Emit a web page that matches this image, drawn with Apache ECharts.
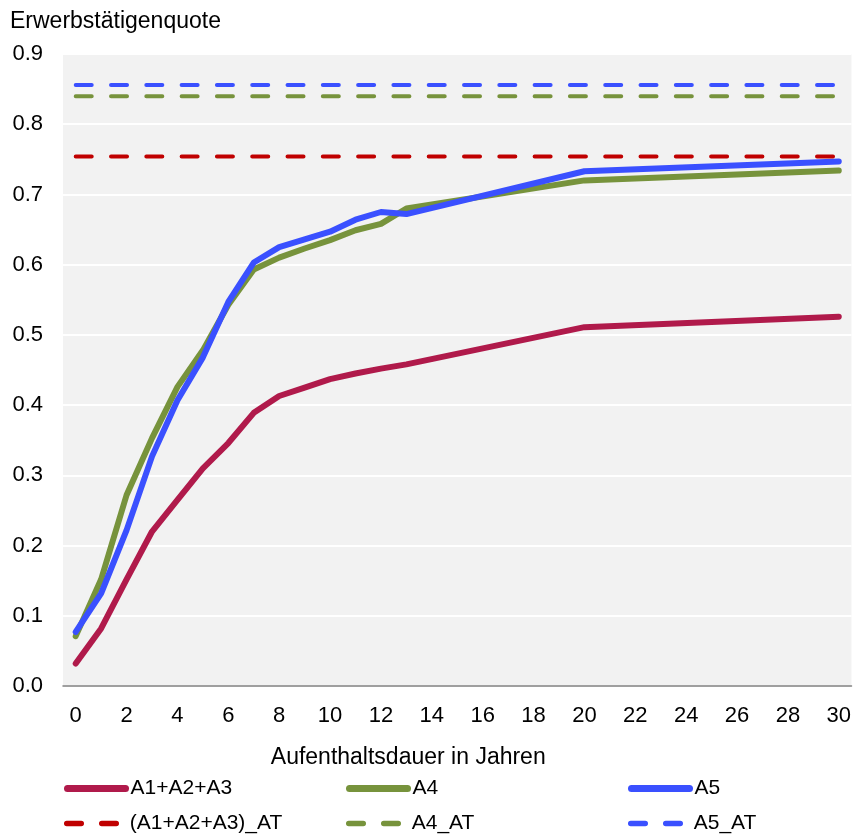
<!DOCTYPE html>
<html>
<head>
<meta charset="utf-8">
<script src="https://cdn.jsdelivr.net/npm/echarts@6/dist/echarts.min.js"></script>
<style>
html,body{margin:0;padding:0;background:#fff;}
#chart{width:854px;height:835px;}
</style>
</head>
<body>
<div id="chart"></div>
<script>
// Categories: years of residence
const years = ['0','1','2','3','4','5','6','7','8','9','10','11','12','13','14','15','16','17','18','19','20','21','22','23','24','25','26','27','28','29','30'];
// Solid series (null = no point, line connects)
const a123 = [0.032,0.082,0.152,0.220,0.265,0.310,0.346,0.389,0.413,0.425,0.437,0.445,0.452,0.458,null,null,null,null,null,null,0.511,null,null,null,null,null,null,null,null,null,0.526];
const a4   = [0.071,0.152,0.272,0.353,0.426,0.478,0.543,0.593,0.610,0.623,0.635,0.649,0.658,0.680,null,null,null,null,null,null,0.720,null,null,null,null,null,null,null,null,null,0.734];
const a5   = [0.077,0.132,0.222,0.327,0.407,0.468,0.547,0.603,0.625,0.636,0.647,0.664,0.675,0.672,null,null,null,null,null,null,0.733,null,null,null,null,null,null,null,null,null,0.747];
// Reference levels (Austria)
const a123_AT = [0.754,null,null,null,null,null,null,null,null,null,null,null,null,null,null,null,null,null,null,null,null,null,null,null,null,null,null,null,null,null,0.754];
const a4_AT   = [0.840,null,null,null,null,null,null,null,null,null,null,null,null,null,null,null,null,null,null,null,null,null,null,null,null,null,null,null,null,null,0.840];
const a5_AT   = [0.856,null,null,null,null,null,null,null,null,null,null,null,null,null,null,null,null,null,null,null,null,null,null,null,null,null,null,null,null,null,0.856];
const seriesNames = ['A1+A2+A3','A4','A5','(A1+A2+A3)_AT','A4_AT','A5_AT'];

const cRed = '#B01A4B', cGreen = '#77933C', cBlue = '#3A50FF', cDashRed = '#C00000';
const FONT = 'Liberation Sans, Arial, sans-serif';

function solid(name, data, color){
  return {name, type:'line', data, connectNulls:true, symbol:'none', silent:true,
    lineStyle:{color, width:6, cap:'round', join:'round'}, itemStyle:{color}, animation:false};
}
function dashed(name, data, color){
  return {name, type:'line', data, connectNulls:true, symbol:'none', silent:true,
    lineStyle:{color, width:4, type:[16,19.3], cap:'round'}, itemStyle:{color}, animation:false};
}
function legendItem(name, left, top, isDashed){
  return {data:[name], left, top, padding:0, orient:'horizontal', itemWidth:58, itemHeight:8, itemGap:0,
    selectedMode:false,
    textStyle:{fontFamily:FONT, fontSize:21, color:'#000'},
    itemStyle:{color:'rgba(0,0,0,0)', borderColor:'rgba(0,0,0,0)', borderWidth:0, opacity:0},
    lineStyle: isDashed ? {width:5.5, type:[14.5,20.5], cap:'round'} : {width:7, cap:'round'}};
}

const chart = echarts.init(document.getElementById('chart'), null, {renderer:'canvas'});
chart.setOption({
  animation:false,
  title:{text:'Erwerbstätigenquote', left:5, top:5,
    textStyle:{fontFamily:FONT, fontSize:23, fontWeight:'normal', color:'#000'}},
  grid:{left:63, right:2, top:54, bottom:149, show:true, backgroundColor:'#f2f2f2', borderWidth:0, containLabel:false},
  legend:[
    legendItem(seriesNames[0], 64, 778, false),
    legendItem(seriesNames[1], 346, 778, false),
    legendItem(seriesNames[2], 628, 778, false),
    legendItem(seriesNames[3], 64, 813, true),
    legendItem(seriesNames[4], 346, 813, true),
    legendItem(seriesNames[5], 628, 813, true)
  ],
  xAxis:{type:'category', data:years, boundaryGap:true,
    name:'Aufenthaltsdauer in Jahren', nameLocation:'middle', nameGap:60,
    nameTextStyle:{fontFamily:FONT, fontSize:23, color:'#000', padding:[0,98,0,0]},
    axisLine:{show:true, lineStyle:{color:'#808080', width:1.5}},
    axisTick:{show:false},
    axisLabel:{interval:1, margin:19, fontFamily:FONT, fontSize:22, color:'#000'},
    splitLine:{show:false}},
  yAxis:{type:'value', min:0, max:0.9, interval:0.1,
    axisLine:{show:false}, axisTick:{show:false},
    axisLabel:{margin:20, fontFamily:FONT, fontSize:22, color:'#000', formatter:v=>v.toFixed(1)},
    splitLine:{show:true, lineStyle:{color:'#ffffff', width:2}}},
  series:[
    solid(seriesNames[0], a123, cRed),
    solid(seriesNames[1], a4, cGreen),
    solid(seriesNames[2], a5, cBlue),
    dashed(seriesNames[3], a123_AT, cDashRed),
    dashed(seriesNames[4], a4_AT, cGreen),
    dashed(seriesNames[5], a5_AT, cBlue)
  ]
});
</script>
</body>
</html>
